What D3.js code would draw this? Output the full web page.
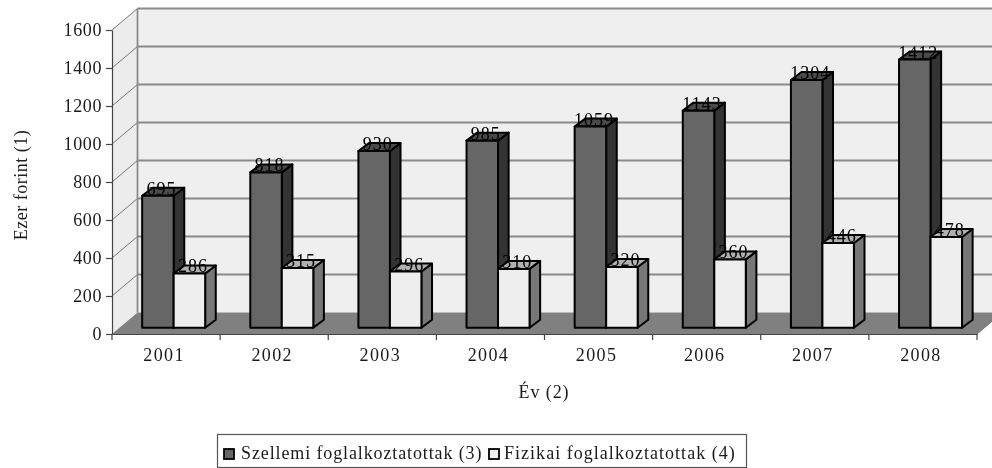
<!DOCTYPE html>
<html>
<head>
<meta charset="utf-8">
<style>
  html, body { margin: 0; background: #fff; }
  text { font-family: "Liberation Serif", serif; fill: #1a1a1a; }
</style>
<script src="https://cdn.jsdelivr.net/npm/d3@7/dist/d3.min.js"></script>
</head>
<body>
<svg></svg>
<script>
var years = ["2001", "2002", "2003", "2004", "2005", "2006", "2007", "2008"];
var mental = [695, 818, 930, 985, 1059, 1143, 1304, 1412];
var physical = [286, 315, 296, 310, 320, 360, 446, 478];
var yTicks = [0, 200, 400, 600, 800, 1000, 1200, 1400, 1600];
var seriesNames = ["Szellemi foglalkoztatottak (3)", "Fizikai foglalkoztatottak (4)"];

var width = 992, height = 468;
var svg = d3.select("svg").attr("width", width).attr("height", height);

var x = d3.scaleBand().domain(years).range([112, 977]);
var y = d3.scaleLinear().domain([0, 1600]).range([334, 30]);

// projection of the 3d box
var depthX = 25.5, depthY = -21.5;
var barX = 7.6, barY = -6.2;         // front of bars from front of the box
var barDepthX = 10.6, barDepthY = -8;
var barW = 31.5;

var poly = pts => pts.map(p => p.join(",")).join(" ");
var g = svg.append("g").style("filter", "blur(0.55px)");

// walls
g.append("polygon")
  .attr("points", poly([[x.range()[0] + depthX, y(1600) + depthY], [x.range()[1] + depthX, y(1600) + depthY],
                        [x.range()[1] + depthX, y(0) + depthY], [x.range()[0] + depthX, y(0) + depthY]]))
  .attr("fill", "#efefef");
g.append("polygon")
  .attr("points", poly([[x.range()[0], y(1600)], [x.range()[0] + depthX, y(1600) + depthY],
                        [x.range()[0] + depthX, y(0) + depthY], [x.range()[0], y(0)]]))
  .attr("fill", "#ececec");

// floor
g.append("polygon")
  .attr("points", poly([[x.range()[0], y(0)], [x.range()[1], y(0)],
                        [x.range()[1] + depthX, y(0) + depthY], [x.range()[0] + depthX, y(0) + depthY]]))
  .attr("fill", "#808080");

// grid
yTicks.slice(1).forEach(t => {
  g.append("line")
    .attr("x1", x.range()[0] + depthX).attr("x2", x.range()[1] + depthX)
    .attr("y1", y(t) + depthY).attr("y2", y(t) + depthY)
    .attr("stroke", "#8a8a8a").attr("stroke-width", 1.8);
  g.append("line")
    .attr("x1", x.range()[0]).attr("x2", x.range()[0] + depthX)
    .attr("y1", y(t)).attr("y2", y(t) + depthY)
    .attr("stroke", "#777").attr("stroke-width", 1);
});
g.append("line")
  .attr("x1", x.range()[0] + depthX).attr("x2", x.range()[0] + depthX)
  .attr("y1", y(1600) + depthY).attr("y2", y(0) + depthY)
  .attr("stroke", "#8a8a8a").attr("stroke-width", 1.8);

// bars
function bar(left, value, front, top, side) {
  var x0 = left, x1 = left + barW, b = y(0) + barY, t = y(value) + barY;
  var s = g.append("g").attr("stroke", "#000").attr("stroke-width", 2).attr("stroke-linejoin", "round");
  s.append("polygon")
    .attr("points", poly([[x1, t], [x1 + barDepthX, t + barDepthY], [x1 + barDepthX, b + barDepthY], [x1, b]]))
    .attr("fill", side);
  s.append("polygon")
    .attr("points", poly([[x0, t], [x0 + barDepthX, t + barDepthY], [x1 + barDepthX, t + barDepthY], [x1, t]]))
    .attr("fill", top);
  s.append("rect")
    .attr("x", x0).attr("y", t).attr("width", barW).attr("height", b - t)
    .attr("fill", front);
}
years.forEach((yr, i) => {
  var center = x(yr) + x.bandwidth() / 2 + barX;
  bar(center - barW, mental[i], "#666666", "#4a4a4a", "#333333");
  bar(center, physical[i], "#eeeeee", "#b0b0b0", "#777777");
});

// value labels
function valueLabel(cx, value) {
  g.append("text")
    .attr("x", cx).attr("y", y(value) + barY - 1)
    .attr("text-anchor", "middle")
    .attr("font-size", 18).attr("letter-spacing", 1)
    .style("fill", "#000")
    .text(value);
}
years.forEach((yr, i) => {
  var center = x(yr) + x.bandwidth() / 2 + barX;
  valueLabel(center - barW / 2 + 3.5, mental[i]);
  valueLabel(center + barW / 2 + 3.5, physical[i]);
});

// axes
var yAxis = g.append("g").attr("transform", "translate(" + x.range()[0] + ",0)")
  .call(d3.axisLeft(y).tickValues(yTicks).tickSize(6).tickSizeOuter(0).tickPadding(4).tickFormat(d3.format("d")));
yAxis.selectAll("text").attr("font-size", 18).attr("letter-spacing", 0.6).style("font-family", "Liberation Serif").attr("fill", "#1a1a1a");
yAxis.selectAll("line, path").attr("stroke", "#444").attr("stroke-width", 1.2);

var xAxis = g.append("g").attr("transform", "translate(0," + y(0) + ")")
  .call(d3.axisBottom(x).tickSize(0).tickPadding(14).tickSizeOuter(0));
xAxis.selectAll("text").attr("font-size", 18).attr("letter-spacing", 1.4).attr("dx", -2).style("font-family", "Liberation Serif").attr("fill", "#1a1a1a");
xAxis.select("path").attr("stroke", "#444").attr("stroke-width", 1.2);
// ticks sit between the categories
x.domain().concat(["end"]).forEach((d, i) => {
  var px = x.range()[0] + i * x.bandwidth();
  g.append("line").attr("x1", px).attr("x2", px).attr("y1", y(0)).attr("y2", y(0) + 6)
    .attr("stroke", "#444").attr("stroke-width", 1.2);
});
g.append("line")
  .attr("x1", x.range()[1]).attr("x2", x.range()[1] + depthX)
  .attr("y1", y(0)).attr("y2", y(0) + depthY)
  .attr("stroke", "#777").attr("stroke-width", 1);

// axis titles
g.append("text")
  .attr("transform", "translate(27,185) rotate(-90)")
  .attr("text-anchor", "middle").attr("font-size", 18).attr("letter-spacing", 0.5)
  .text("Ezer forint (1)");
g.append("text")
  .attr("x", 544).attr("y", 398)
  .attr("text-anchor", "middle").attr("font-size", 18).attr("letter-spacing", 0.9)
  .text("Év (2)");

// legend
var legend = g.append("g");
legend.append("rect")
  .attr("x", 217.5).attr("y", 434.5).attr("width", 529).attr("height", 33)
  .attr("fill", "#fff").attr("stroke", "#555").attr("stroke-width", 1.2);
legend.append("rect").attr("x", 224).attr("y", 449).attr("width", 10).attr("height", 10)
  .attr("fill", "#666666").attr("stroke", "#000").attr("stroke-width", 1.8);
legend.append("text").attr("x", 241).attr("y", 459).attr("font-size", 18).attr("letter-spacing", 0.88).text(seriesNames[0]);
legend.append("rect").attr("x", 489).attr("y", 449).attr("width", 10).attr("height", 10)
  .attr("fill", "#eeeeee").attr("stroke", "#000").attr("stroke-width", 1.8);
legend.append("text").attr("x", 504).attr("y", 459).attr("font-size", 18).attr("letter-spacing", 1.03).text(seriesNames[1]);
</script>
</body>
</html>
